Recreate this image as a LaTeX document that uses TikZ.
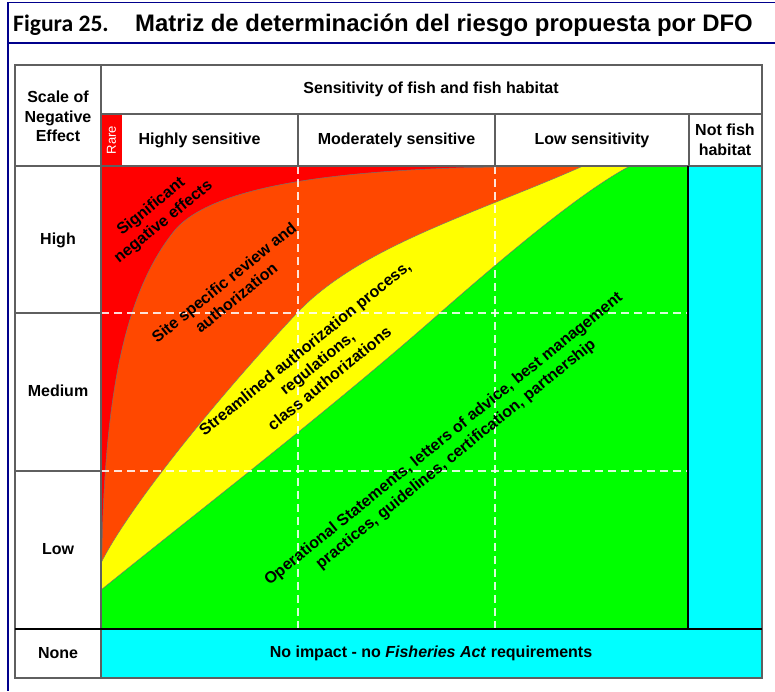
\documentclass[tikz,border=0pt]{standalone}
\usepackage{fontspec}
\setmainfont{Liberation Sans}
\newfontfamily\carlito{Carlito}
\usepackage{tikz}
\definecolor{riskred}{RGB}{255,0,0}
\definecolor{riskorange}{RGB}{255,72,0}
\definecolor{riskyellow}{RGB}{255,255,0}
\definecolor{riskgreen}{RGB}{0,255,0}
\definecolor{riskcyan}{RGB}{0,255,255}
\definecolor{framenavy}{RGB}{0,0,140}
\definecolor{rulegray}{RGB}{95,95,95}

\begin{document}
\begin{tikzpicture}[x=1pt,y=-1pt]
            \tikzstyle{every node}+=[inner sep=0pt, align=center, font=\fontsize{16}{19.5}\selectfont\bfseries]
            \tikzstyle{gridline}=[white, opacity=0.85, line width=1.3, dash pattern=on 8pt off 5pt]
            \tikzstyle{rule}=[rulegray, line width=1.6]
            \tikzstyle{edge}=[draw=black!55, line width=0.5]
            \useasboundingbox (0,0) rectangle (775,691);
            \fill [white] (0,0) rectangle (775,691);
            \draw [framenavy, line width=1.2] (775,2.5) -- (8,2.5) -- (8,691);
            \draw [framenavy, line width=1.2] (8,43) -- (775,43);
            \draw (13,31) node [anchor=base west, font=\carlito\fontsize{23.6}{28}\selectfont\bfseries] (fig) {Figura 25.};
            \draw (135,31) node [anchor=base west, font=\fontsize{23.9}{28}\selectfont\bfseries] (title) {Matriz de determinación del riesgo propuesta por DFO};
            \fill [riskred] (101,166) rectangle (688,629);
            \fill [riskred] (101,114) rectangle (122,166);
            \filldraw [fill=riskorange, edge] (101,629) -- (101.5,580) .. controls (103,420) and (118,300) .. (175,230) .. controls (222,175) and (400,167) .. (545,166.5) -- (688,166) -- (688,629) -- cycle;
            \filldraw [fill=riskyellow, edge] (101,629) -- (101,563) .. controls (130,505) and (220,395) .. (297,313) .. controls (360,246) and (480,212) .. (583,166) -- (688,166) -- (688,629) -- cycle;
            \filldraw [fill=riskgreen, edge] (101,629) -- (101,590) .. controls (200,510) and (330,410) .. (440,313) .. controls (520,243) and (585,190) .. (630,166) -- (688,166) -- (688,629) -- cycle;
            \fill [riskcyan] (688,166) rectangle (762,629);
            \fill [riskcyan] (101,629) rectangle (762,678);
            \draw [gridline] (298,166) -- (298,629);
            \draw [gridline] (495,166) -- (495,629);
            \draw [gridline] (101,313) -- (688,313);
            \draw [gridline] (101,471) -- (688,471);
            \draw [rule] (15,65) rectangle (762,678);
            \draw [rule] (101,65) -- (101,678);
            \draw [rule] (101,114) -- (762,114);
            \draw [rule] (15,166) -- (762,166);
            \draw [rule] (15,313) -- (101,313);
            \draw [rule] (15,471) -- (101,471);
            \draw [rule] (298,114) -- (298,166);
            \draw [rule] (495,114) -- (495,166);
            \draw [rule] (689,114) -- (689,166);
            \draw [black, line width=1.5] (688,166) -- (688,629);
            \draw [black, line width=1.5] (15,629) -- (762,629);
            \draw (58,116.5) node (scale) {Scale of\\Negative\\Effect};
            \draw (431,89) node (sensitivity) {Sensitivity of fish and fish habitat};
            \draw (111.5,140) node [rotate=90, text=white, font=\fontsize{13}{15}\selectfont] (rare) {Rare};
            \draw (199.5,140) node (highsens) {Highly sensitive};
            \draw (396.5,140) node (modsens) {Moderately sensitive};
            \draw (592,140) node (lowsens) {Low sensitivity};
            \draw (725,140) node (notfish) {Not fish\\habitat};
            \draw (58,240) node (high) {High};
            \draw (58,391) node (medium) {Medium};
            \draw (58,549) node (low) {Low};
            \draw (58,653) node (none) {None};
            \draw (431,653) node (noimpact) {No impact - no \textit{Fisheries Act} requirements};
            \draw (157.5,214.5) node [rotate=39] (significant) {Significant\\negative effects};
            \draw (230,290) node [rotate=39] (sitereview) {Site specific review and\\authorization};
            \draw (317,363) node [rotate=39] (streamlined) {Streamlined authorization process,\\regulations,\\class authorizations};
            \draw (450,447) node [rotate=39] (operational) {Operational Statements, letters of advice, best management\\practices, guidelines, certification, partnership};
            \end{tikzpicture}
\end{document}
